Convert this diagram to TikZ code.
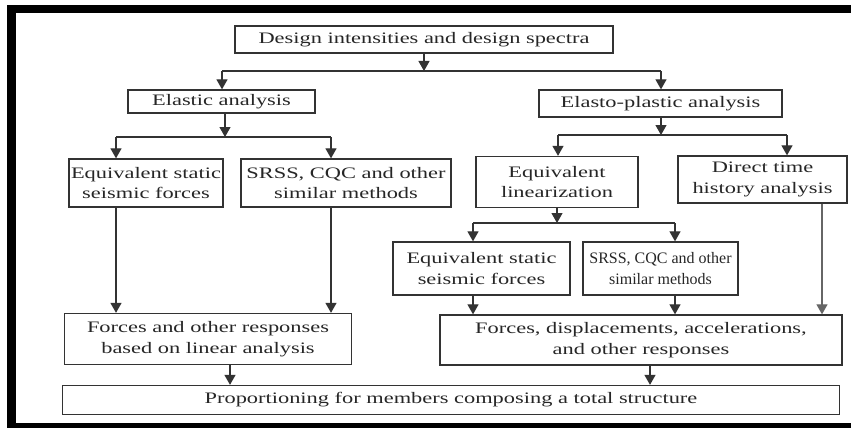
\documentclass[tikz,border=0pt]{standalone}
\usepackage{fontspec}
\setmainfont{Liberation Serif}[FakeStretch=1.4]
\newfontfamily\narrowserif{Liberation Serif}[FakeStretch=1.0]
\usetikzlibrary{arrows.meta}
\begin{document}
\begin{tikzpicture}[x=1pt,y=-1pt,
  box/.style={draw=black!80, line width=1.3pt, inner sep=0pt, align=center,
    font=\fontsize{16}{20.5}\selectfont, text=black!85},
  ln/.style={draw=black!80, line width=1.2pt},
  arr/.style={ln, -{Triangle[length=10pt,width=11pt]}}]
\useasboundingbox (0,0) rectangle (851,428);
% frame
\fill[black] (7,5) rectangle (851,13);
\fill[black] (7,5) rectangle (16,428);
\fill[black] (16,423) rectangle (851,428);
% nodes
\node[box, minimum width=378pt, minimum height=27pt] (top) at (424,39.5) {Design intensities and design spectra};
\node[box, minimum width=187pt, minimum height=23pt] (elastic) at (221.5,101.5) {Elastic analysis};
\node[box, minimum width=243pt, minimum height=27pt] (elasto) at (660.5,103.5) {Elasto-plastic analysis};
\node[box, minimum width=154pt, minimum height=48pt] (eqsL) at (146,183) {Equivalent static\\seismic forces};
\node[box, minimum width=210pt, minimum height=48pt] (srssL) at (346,183) {SRSS, CQC and other\\similar methods};
\node[box, minimum width=162pt, minimum height=51pt] (eqlin) at (557,182) {Equivalent\\linearization};
\node[box, minimum width=169pt, minimum height=47pt] (dth) at (762.5,179.5) {Direct time\\history analysis};
\node[box, minimum width=177pt, minimum height=53pt] (eqsR) at (481.5,268.5) {Equivalent static\\seismic forces};
\node[box, minimum width=155pt, minimum height=53pt, font=\narrowserif\fontsize{16}{20.5}\selectfont] (srssR) at (660.5,268.5) {SRSS, CQC and other\\similar methods};
\node[box, minimum width=287pt, minimum height=51pt] (forL) at (208,339) {Forces and other responses\\based on linear analysis};
\node[box, minimum width=402pt, minimum height=50pt] (forR) at (641,340) {Forces, displacements, accelerations,\\and other responses};
\node[box, minimum width=777pt, minimum height=29pt] (prop) at (451,400) {Proportioning for members composing a total structure};
% junction coordinates
\coordinate (j1) at (424,71);
\coordinate (j1L) at (222,71);
\coordinate (j1R) at (661,71);
\coordinate (j2) at (225,137);
\coordinate (j2L) at (116,137);
\coordinate (j2R) at (331,137);
\coordinate (j3) at (661,135);
\coordinate (j3L) at (558,135);
\coordinate (j3R) at (787,135);
\coordinate (j4) at (557,223);
\coordinate (j4L) at (473,223);
\coordinate (j4R) at (675,223);
\coordinate (dx) at (822,0);
\coordinate (px1) at (230,0);
\coordinate (px2) at (650,0);
% top level
\draw[arr] (top.south) -- (j1);
\draw[ln] (j1L) -- (j1R);
\draw[arr] (j1L) -- (j1L |- elastic.north);
\draw[arr] (j1R) -- (j1R |- elasto.north);
% elastic branch
\draw[arr] (elastic.south -| j2) -- (j2);
\draw[ln] (j2L) -- (j2R);
\draw[arr] (j2L) -- (j2L |- eqsL.north);
\draw[arr] (j2R) -- (j2R |- srssL.north);
\draw[arr] (eqsL.south -| j2L) -- (j2L |- forL.north);
\draw[arr] (srssL.south -| j2R) -- (j2R |- forL.north);
% elasto-plastic branch
\draw[arr] (elasto.south -| j3) -- (j3);
\draw[ln] (j3L) -- (j3R);
\draw[arr] (j3L) -- (j3L |- eqlin.north);
\draw[arr] (j3R) -- (j3R |- dth.north);
\draw[arr] (eqlin.south -| j4) -- (j4);
\draw[ln] (j4L) -- (j4R);
\draw[arr] (j4L) -- (j4L |- eqsR.north);
\draw[arr] (j4R) -- (j4R |- srssR.north);
\draw[arr] (eqsR.south -| j4L) -- (j4L |- forR.north);
\draw[arr] (srssR.south -| j4R) -- (j4R |- forR.north);
\draw[arr, draw=black!60] (dth.south -| dx) -- (dx |- forR.north);
% to bottom
\draw[arr] (forL.south -| px1) -- (px1 |- prop.north);
\draw[arr] (forR.south -| px2) -- (px2 |- prop.north);
\end{tikzpicture}
\end{document}
